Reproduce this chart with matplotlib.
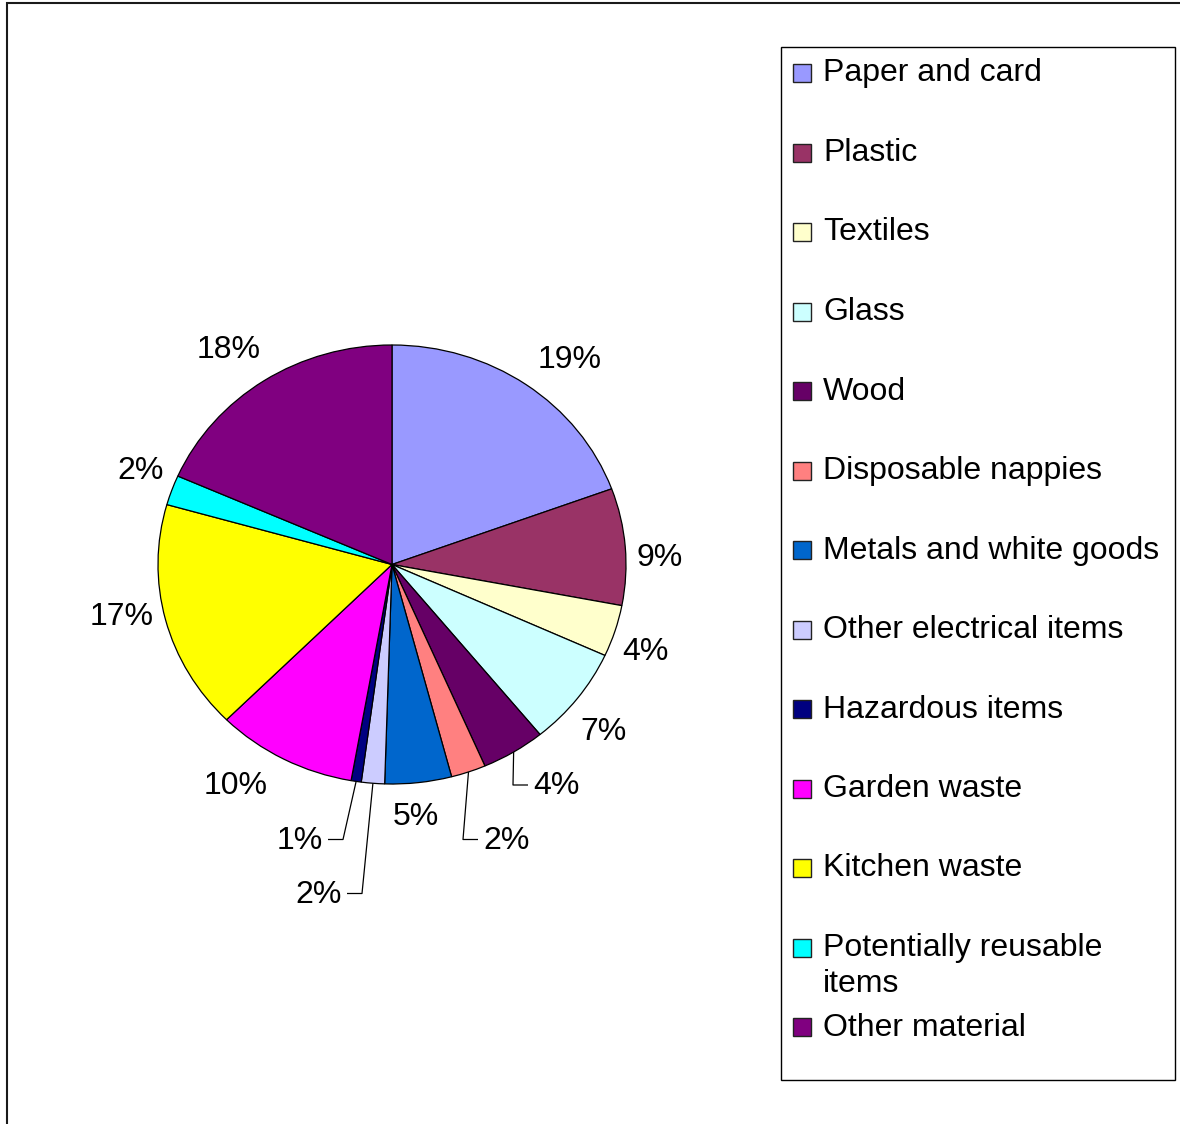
import matplotlib.pyplot as plt
from matplotlib.patches import Rectangle
import numpy as np

plt.rcParams['font.family'] = ['Liberation Sans', 'DejaVu Sans']

# waste composition, share of total (%)
materials = ['Paper and card', 'Plastic', 'Textiles', 'Glass', 'Wood',
             'Disposable nappies', 'Metals and white goods',
             'Other electrical items', 'Hazardous items', 'Garden waste',
             'Kitchen waste', 'Potentially reusable\nitems', 'Other material']
shares = [19.4, 8.6, 3.8, 7.3, 4.4, 2.4, 4.6, 1.6, 0.7, 9.7, 16.9, 2.2, 18.4]
colours = ['#9999FF', '#993366', '#FFFFCC', '#CCFFFF', '#660066', '#FF8080',
           '#0066CC', '#CCCCFF', '#000080', '#FF00FF', '#FFFF00', '#00FFFF',
           '#800080']

W, H = 1180, 1124
cx, cy = 392, 564.5     # pie centre (px from top-left)
rx, ry = 234, 219.5     # pie radii (px)
FS = 23

# label cap-centre positions in px, and which ones get a leader line
lab_px = [(570, 357), (659.5, 555.5), (645.5, 650), (603.5, 729), (533, 784),
          (483, 838.5), (415.5, 814.5), (342, 892.5), (323, 838.5),
          (236, 784), (122, 614.5), (140.5, 468.5), (229, 347.5)]
leader = {4: 'left', 5: 'left', 7: 'right', 8: 'right'}

fig = plt.figure(figsize=(W / 100, H / 100), dpi=100)
ax = fig.add_axes([0, 0, 1, 1])
wedges, _ = ax.pie(shares, colors=colours, startangle=90, counterclock=False,
                   wedgeprops=dict(edgecolor='black', linewidth=0.9))
ax.set_aspect('auto')
ax.set_xlim(-cx / rx, (W - cx) / rx)
ax.set_ylim((cy - H) / ry, cy / ry)
ax.axis('off')

def to_data(px, py):
    return (px - cx) / rx, (cy - py) / ry

total = sum(shares)
for i, (w, v) in enumerate(zip(wedges, shares)):
    txt = '%d%%' % round(v / total * 100)
    lx, ly = to_data(*lab_px[i])
    base = ly - 10.5 / ry
    if i in leader:
        mid = np.deg2rad((w.theta1 + w.theta2) / 2)
        sx, sy = np.cos(mid), np.sin(mid)
        side = 1 if leader[i] == 'left' else -1
        ex = lx - side * 20 / rx
        ax.plot([sx, ex, lx - side * 5 / rx], [sy, ly - 1 / ry, ly - 1 / ry],
                color='black', linewidth=0.9, solid_capstyle='butt')
        ax.text(lx, base, txt, fontsize=FS, ha=leader[i], va='baseline')
    else:
        ax.text(lx, base, txt, fontsize=FS, ha='center', va='baseline')

# chart frame
fig.patches.append(Rectangle((6.5, -20), 1300, H - 3 + 20, transform=None,
                             fill=False, edgecolor='#1a1a1a', linewidth=1.5))

# legend box
fig.patches.append(Rectangle((781, H - 1080), 394, 1080 - 47, transform=None,
                             fill=False, edgecolor='black', linewidth=1.0))
for i, (name, c) in enumerate(zip(materials, colours)):
    yc = 73 + i * 79.5
    fig.patches.append(Rectangle((793, H - yc - 9), 18, 18, transform=None,
                                 facecolor=c, edgecolor='#222222', linewidth=1.0))
    for k, line in enumerate(name.split('\n')):
        fig.text(823 / W, (H - yc - 8.5 - k * 35.7) / H, line, fontsize=FS,
                 ha='left', va='baseline')

fig.savefig('out.png', dpi=100, facecolor='white')
